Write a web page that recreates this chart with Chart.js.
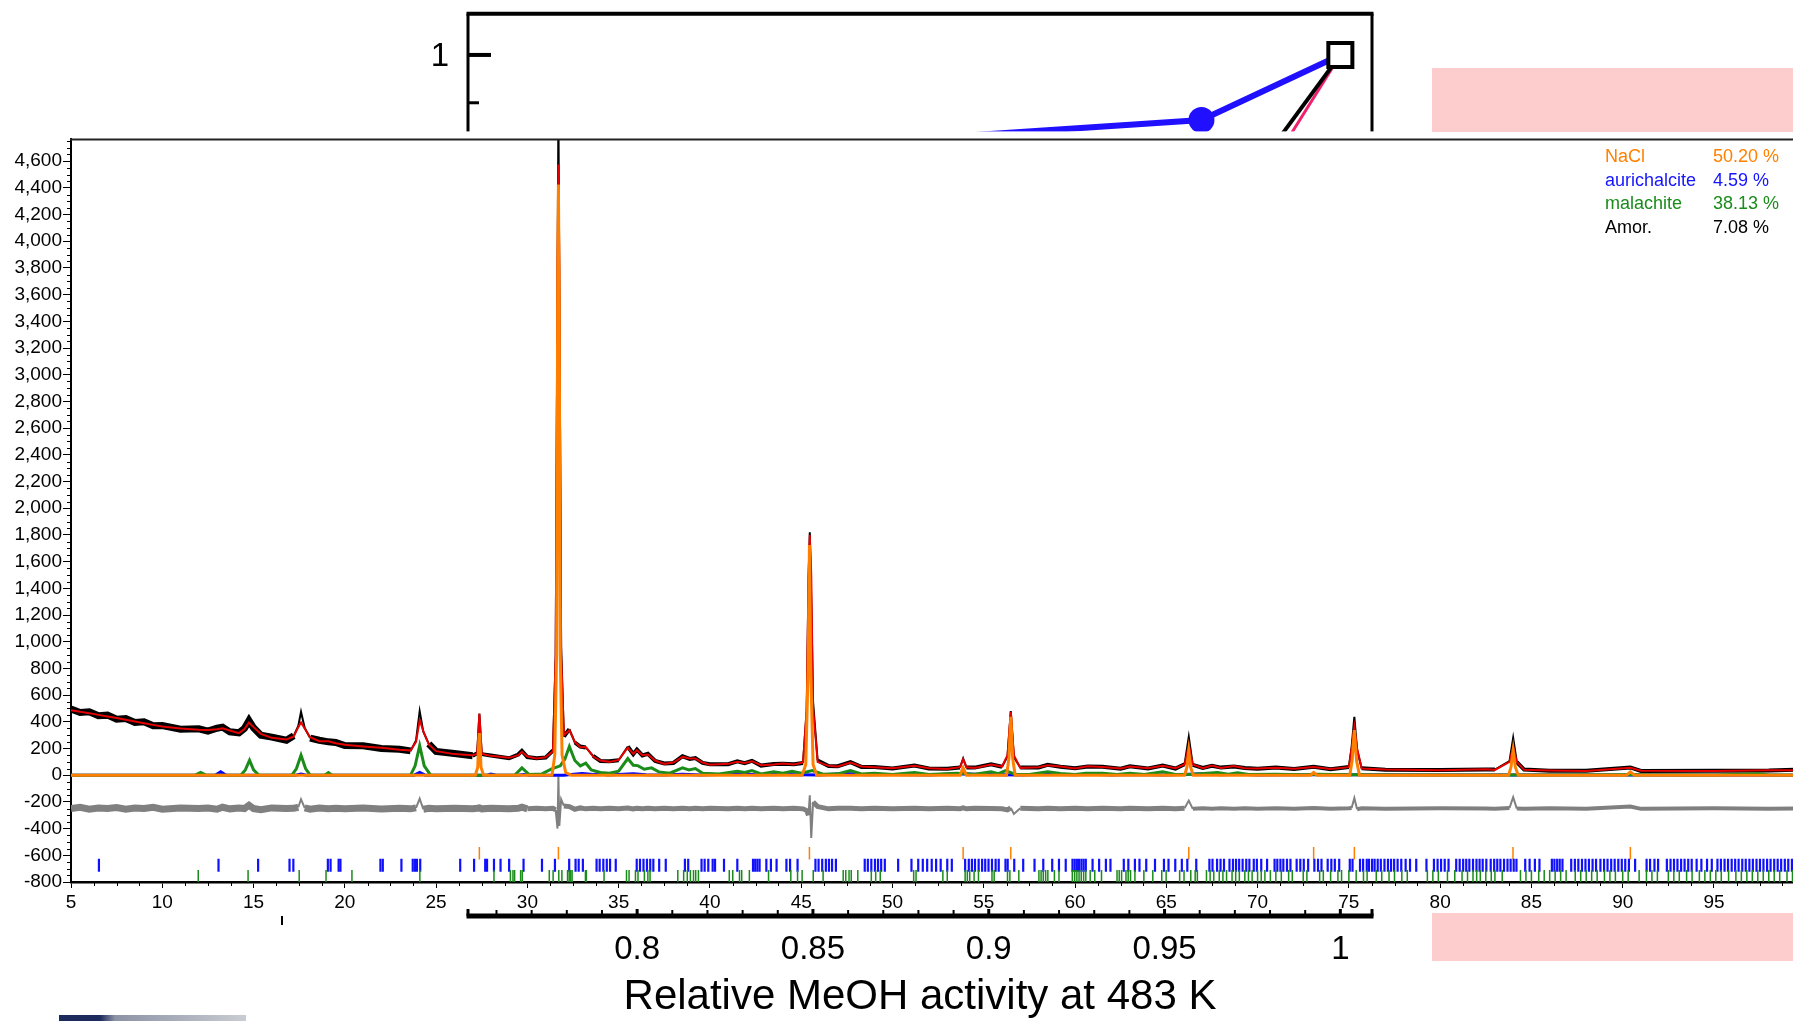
<!DOCTYPE html>
<html><head><meta charset="utf-8">
<script src="https://cdn.jsdelivr.net/npm/chart.js@4.4.1/dist/chart.umd.min.js"></script>
<style>
html,body{margin:0;padding:0;background:#fff;overflow:hidden;width:1793px;height:1021px;position:relative;font-family:"Liberation Sans",Arial,sans-serif}
#inset{position:absolute;left:0;top:-25px;z-index:1}
#main{position:absolute;left:0;top:127px;z-index:2}
.pink{position:absolute;background:#fdcccc;z-index:3}
#legend{position:absolute;left:1605px;top:145px;z-index:4;font-size:18px;line-height:23.5px}
.row{position:relative;height:23.5px;width:180px;white-space:nowrap}
.row span{position:absolute;top:0}
.deco{position:absolute;z-index:3}
</style></head><body>
<canvas id="inset" width="1793" height="1046"></canvas>
<canvas id="main" width="1803" height="782"></canvas>
<div class="pink" style="left:1432px;top:68px;width:361px;height:64px"></div>
<div class="pink" style="left:1432px;top:913px;width:361px;height:48px"></div>
<div class="deco" style="left:281px;top:916px;width:1.5px;height:9px;background:#000"></div>
<div class="deco" style="left:59px;top:1015px;width:187px;height:6px;background:linear-gradient(90deg,#1c2b5c 0%,#1c2b5c 22%,#8d93a6 30%,#c9ccd2 100%)"></div>
<div id="legend"></div>
<script>
// ---------------- Main XRD pattern data ----------------
const twoTheta = [5.0,5.5,6.0,6.5,7.0,7.5,8.0,8.5,9.0,9.5,10.0,
  11.0,12.0,12.5,13.0,13.3,13.7,14.2,14.5,14.75,15.0,15.4,
  16.0,16.8,17.2,17.45,17.6,17.8,18.1,18.6,19.1,19.5,20.0,
  21.0,22.0,23.0,23.6,23.9,24.1,24.3,24.6,25.0,26.0,27.0,
  27.25,27.37,27.5,28.0,29.0,29.5,29.7,30.0,30.5,31.0,31.4,
  31.55,31.65,31.7,31.75,31.85,32.0,32.3,32.6,32.9,33.2,33.6,
  34.0,34.5,35.0,35.5,35.8,36.0,36.3,36.6,37.0,37.5,38.0,
  38.5,38.9,39.2,39.6,40.0,41.0,41.5,41.9,42.3,42.8,43.5,
  44.0,44.6,45.1,45.3,45.4,45.47,45.55,45.65,45.9,46.5,47.0,
  47.7,48.3,49.0,50.0,51.2,52.0,53.0,53.7,53.87,54.05,54.5,
  55.4,56.0,56.3,56.48,56.65,57.0,58.0,58.5,59.2,60.0,60.7,
  61.5,62.5,63.0,64.0,64.8,65.5,66.0,66.23,66.45,67.0,67.5,
  68.0,68.7,69.3,70.0,71.0,72.0,73.07,74.0,75.0,75.15,75.3,
  75.45,75.7,77.0,80.0,82.5,83.0,83.8,84.0,84.2,84.6,86.0,
  88.0,90.42,91.0,95.0,98.0,99.4];
const calcCounts = [487,475,465,452,440,428,415,402,390,377,365,
  350,340,338,345,352,335,315,345,395,360,310,
  280,268,290,360,395,350,285,255,255,240,228,
  215,205,190,185,250,412,330,230,180,158,150,
  160,462,160,145,130,150,175,140,125,135,180,
  900,3800,4575,3800,900,300,337,250,210,212,140,
  110,100,115,207,160,187,150,155,110,85,95,
  137,125,125,95,78,85,100,92,105,75,80,
  88,80,95,500,1500,1800,1500,500,100,70,65,
  95,65,60,52,70,52,47,60,120,60,55,
  80,65,150,475,150,55,60,75,65,50,67,
  62,50,65,52,70,52,80,225,80,52,72,
  55,68,52,50,55,48,62,47,60,200,362,
  200,50,43,37,45,40,100,212,100,40,36,
  32,55,34,32,37,38];
const obsCounts = [495,470,475,445,450,420,425,395,400,370,372,
  345,348,330,352,360,325,318,350,410,355,300,
  285,262,295,370,475,355,278,262,250,245,222,
  220,200,195,182,260,480,325,235,178,162,146,
  165,460,158,148,127,155,182,136,128,132,185,
  890,3650,5000,3670,960,290,345,245,215,208,145,
  107,104,112,215,157,192,148,160,107,88,92,
  142,122,128,92,82,82,104,90,108,72,84,
  86,83,92,480,1450,1820,1300,550,110,68,67,
  98,62,62,50,72,50,49,58,125,58,57,
  82,63,140,480,135,57,58,78,63,52,65,
  64,48,67,50,72,50,82,287,78,54,70,
  57,66,54,48,57,46,64,45,62,210,437,
  190,52,41,39,43,42,105,280,98,42,34,
  34,58,32,34,35,40];
const diffCounts = [-250,-240,-255,-245,-250,-242,-255,-245,-250,-240,-255,
  -245,-250,-245,-255,-240,-252,-245,-250,-225,-250,-258,
  -245,-250,-248,-240,-180,-245,-255,-245,-252,-248,-252,
  -245,-253,-248,-252,-245,-175,-255,-248,-252,-248,-252,
  -248,-245,-252,-248,-252,-248,-240,-252,-248,-252,-248,
  -260,-400,-10,-380,-180,-230,-235,-255,-245,-252,-248,
  -252,-248,-252,-245,-252,-248,-252,-248,-252,-248,-252,
  -248,-252,-248,-252,-248,-252,-248,-252,-248,-252,-248,
  -252,-248,-252,-265,-300,-150,-470,-200,-235,-252,-248,
  -248,-252,-248,-252,-248,-252,-248,-252,-245,-252,-248,
  -250,-252,-260,-245,-290,-248,-252,-248,-252,-248,-252,
  -248,-252,-248,-252,-248,-252,-248,-190,-252,-248,-252,
  -248,-252,-248,-252,-248,-252,-245,-252,-248,-245,-170,
  -255,-248,-252,-248,-250,-252,-245,-165,-250,-252,-248,
  -252,-235,-252,-248,-252,-250];

const naclTheta = [5, 27.15,27.28,27.34,27.37,27.40,27.46,27.6,
  31.35,31.5,31.6,31.66,31.7,31.74,31.8,31.9,32.1,32.4,
  45.05,45.25,45.38,45.45,45.52,45.65,45.85,
  53.7,53.87,54.05, 56.25,56.38,56.48,56.58,56.72,
  66.0,66.13,66.23,66.33,66.48, 72.9,73.07,73.25,
  75.05,75.18,75.3,75.42,75.58, 83.75,83.88,84.0,84.12,84.28,
  90.2,90.42,90.65, 99.4];
const naclCounts = [0, 0,60,250,315,250,60,0,
  0,150,900,3600,4425,3600,900,150,20,0,
  0,80,800,1725,800,80,0,
  0,55,0, 0,130,437,130,0,
  0,60,180,60,0, 0,20,0,
  0,110,337,110,0, 0,60,187,60,0,
  0,25,0, 0];

const malTheta = [5,11.8,12.1,12.4,14.3,14.55,14.78,15.0,15.3,17.1,17.35,17.6,17.85,18.1,18.9,19.1,19.3,
  23.6,23.85,24.1,24.35,24.7,29.3,29.7,30.1,30.8,31.3,31.8,32.05,32.3,32.6,32.9,33.2,33.5,34.0,34.5,
  35.0,35.5,35.8,36.05,36.4,36.8,37.2,37.8,38.5,38.85,39.2,39.6,40.5,41.5,41.9,42.3,42.8,43.5,44.0,
  44.5,45.0,45.6,46.2,47.0,47.7,48.3,49.0,50.0,51.2,52.0,53.5,54.5,55.4,55.8,56.2,56.7,57.5,58.5,
  59.2,60.0,60.6,61.5,62.3,63.0,63.8,64.8,65.5,66.5,67.8,68.4,68.9,69.5,71.0,72.5,73.2,75.0,80,85,
  90,95,97.5,98,99.4];
const malCounts = [0,0,20,0,0,40,112,40,0,0,50,150,50,0,0,20,0,
  0,70,222,70,0,0,55,5,10,45,70,120,215,110,70,90,40,20,15,
  30,125,75,72,45,55,25,15,55,40,50,15,10,30,20,35,10,25,15,
  30,15,35,8,10,35,10,15,5,20,5,15,8,25,12,35,8,5,25,
  12,5,15,15,5,15,5,25,5,8,20,8,18,5,8,3,8,3,2,2,
  3,2,10,2,2];

const aurTheta = [5,12.9,13.2,13.5,17.3,17.6,17.9,23.8,24.1,24.4,27.8,28.0,28.3,29.5,29.8,30.1,32.0,32.4,33.0,
  33.6,34.0,34.4,35.0,35.8,36.5,37.5,38.5,39.5,41.7,42.5,44,46,47.5,48.5,50,52,53.5,55,57,58.8,60,60.9,
  62,63,65,67,68,69,70,72,75,80,90,99.4];
const aurCounts = [0,0,25,0,0,8,0,0,20,0,0,8,0,0,6,0,0,5,12,
  5,10,2,5,10,4,2,8,2,10,3,5,2,12,3,5,2,10,5,2,8,3,8,
  2,5,2,10,3,8,2,3,3,2,2,0];

// Bragg reflection positions (tick marks)
const naclRefl = [27.37,31.70,45.45,53.87,56.48,66.23,73.07,75.30,83.99,90.42];
const aurRefl = [6.53,13.08,15.25,16.97,17.18,19.07,19.22,19.66,19.76,21.95,22.08,23.10,23.72,23.84,23.95,24.13,
  26.32,27.08,27.69,27.79,28.17,28.53,29.00,29.79,30.80,31.51,32.29,32.64,32.81,33.04,33.79,33.96,34.16,34.35,
  34.53,34.84,35.99,36.17,36.36,36.55,36.73,36.90,37.22,37.58,38.63,38.81,39.54,39.71,39.91,40.15,40.28,40.77,
  41.50,42.36,42.48,42.60,42.72,43.09,43.34,43.65,44.19,44.39,44.80,45.78,45.95,46.15,46.35,46.52,46.69,46.90,
  48.48,48.65,48.84,49.04,49.21,49.38,49.58,50.31,51.04,51.41,51.66,51.90,52.15,52.39,52.64,53.00,53.25,53.98,
  54.18,54.35,54.52,54.72,54.91,55.08,55.26,55.45,55.65,55.82,56.19,56.31,56.67,57.16,57.78,58.26,58.75,59.12,
  59.49,59.86,59.98,60.10,60.22,60.35,60.47,60.59,60.96,61.32,61.69,61.94,62.67,62.92,63.28,63.53,63.90,64.38,
  64.87,65.12,65.49,65.85,66.15,66.64,67.36,67.53,67.78,67.97,68.16,68.46,68.65,68.82,68.99,69.18,69.38,69.55,
  69.79,69.96,70.20,70.52,70.93,71.08,71.25,71.41,71.61,71.80,72.14,72.34,72.53,72.77,73.11,73.31,73.50,73.84,
  74.04,74.23,74.47,75.05,75.20,75.61,75.78,75.98,76.10,76.27,76.41,76.58,76.75,76.95,77.14,77.31,77.48,77.67,
  77.87,78.11,78.35,78.69,79.25,79.66,79.86,80.05,80.25,80.46,80.88,81.07,81.26,81.43,81.60,81.80,81.99,82.16,
  82.33,82.53,82.77,82.96,83.13,83.30,83.50,83.69,83.86,84.03,84.18,84.66,84.90,85.19,85.44,86.12,86.26,86.41,
  86.55,86.70,87.18,87.38,87.57,87.77,87.96,88.15,88.35,88.54,88.78,88.98,89.17,89.37,89.56,89.76,89.95,90.14,
  90.34,90.68,91.31,91.50,91.74,91.94,92.42,92.62,92.81,93.00,93.20,93.39,93.59,93.78,94.05,94.31,94.62,94.88,
  95.19,95.38,95.58,95.77,95.97,96.16,96.35,96.55,96.74,96.94,97.13,97.33,97.52,97.71,97.91,98.10,98.30,98.49,
  98.68,98.88,99.07,99.27];
const malRefl = [11.97,14.70,17.50,18.97,20.39,24.11,28.17,29.07,29.21,29.30,29.63,29.72,31.20,31.41,31.72,31.89,
  32.20,32.29,32.37,32.45,33.18,33.23,34.20,35.43,35.57,35.92,36.06,36.41,36.60,36.72,38.24,38.56,38.76,38.93,
  39.10,39.22,39.37,41.06,41.25,41.62,41.74,42.16,43.21,44.43,44.80,45.05,45.66,46.20,47.30,47.44,47.62,47.74,
  48.10,48.84,49.08,49.33,51.16,51.29,52.76,53.00,53.98,54.10,54.23,54.47,54.71,55.45,55.57,56.30,56.43,56.92,
  58.02,58.14,58.26,58.39,58.51,58.87,59.12,59.85,59.98,60.10,60.22,60.34,60.47,60.59,60.83,61.08,61.45,62.30,
  62.42,62.55,62.79,62.91,63.04,63.28,63.77,64.26,64.75,64.99,65.73,65.97,66.34,66.58,66.70,67.20,67.40,67.60,
  67.90,68.10,68.30,68.60,68.80,69.00,69.30,69.50,69.70,70.00,70.20,70.40,70.70,71.00,71.30,71.70,71.90,72.50,
  72.70,73.40,73.60,74.00,74.40,74.60,75.00,75.40,75.80,76.00,76.50,76.80,77.20,77.50,77.90,78.20,79.30,79.60,
  79.90,80.40,80.80,81.20,81.50,81.80,82.00,82.20,82.50,82.80,83.00,83.40,84.40,84.70,85.00,85.40,85.70,86.00,
  86.30,86.60,86.90,87.40,87.70,88.00,88.30,88.60,89.00,89.30,89.60,90.00,90.30,90.90,91.30,91.60,91.90,92.50,
  92.80,93.10,93.50,93.80,94.20,94.50,94.80,95.10,95.40,95.80,96.20,96.50,96.80,97.10,97.40,97.70,98.00,98.30,
  98.60,99.00,99.30];
const naclReflLevel = -585, aurReflLevel = -675, malReflLevel = -760;

const xTickValues = [5,10,15,20,25,30,35,40,45,50,55,60,65,70,75,80,85,90,95];
const yTickValues = [-800,-600,-400,-200,0,200,400,600,800,1000,1200,1400,1600,1800,2000,2200,2400,2600,
  2800,3000,3200,3400,3600,3800,4000,4200,4400,4600];

const phaseNames = ['NaCl','aurichalcite','malachite','Amor.'];
const phasePercents = ['50.20 %','4.59 %','38.13 %','7.08 %'];

// ---------------- Background activity chart data ----------------
const activityTicks = [0.8,0.85,0.9,0.95,1];
const activityYTicks = [1];
const activityTitle = 'Relative MeOH activity at 483 K';
const blueActX = [0.85,0.9605,1.0], blueActY = [0.905,0.932,1.0];
const pinkActX = [0.915,1.0], pinkActY = [0.5,1.0];
const blackActX = [0.9,1.0], blackActY = [0.5,1.0];

// ---------------- styles ----------------
const C = {obs:'#000000', calc:'#e60000', diff:'#808080', nacl:'#ff8000', aur:'#0000ff', mal:'#1a8c1a'};
const legendColors = [C.nacl, '#1414ff', C.mal, '#000000'];
const FONT = 'Liberation Sans';

const pts = (xs, ys) => xs.map((x, i) => ({x: x, y: ys[i]}));
const lvl = (xs, v) => xs.map(x => ({x: x, y: v}));

// legend
const lg = document.getElementById('legend');
phaseNames.forEach((n, i) => {
  const r = document.createElement('div'); r.className = 'row'; r.style.color = legendColors[i];
  const a = document.createElement('span'); a.style.left = '0px'; a.textContent = n;
  const b = document.createElement('span'); b.style.left = '108px'; b.textContent = phasePercents[i];
  r.appendChild(a); r.appendChild(b); lg.appendChild(r);
});

const lineDs = (label, data, color, width, order, extra) => Object.assign({
  label, data, showLine: true, borderColor: color, backgroundColor: color, borderWidth: width,
  pointRadius: 0, fill: false, order, clip: 0
}, extra || {});
const tickDs = (label, data, color, r, w, order) => ({
  label, data, showLine: false, pointStyle: 'line', pointRotation: 90, pointRadius: r,
  pointBorderColor: color, pointBackgroundColor: color, pointBorderWidth: w, order, clip: 0
});
// noisy band widths: thinner on steep segments (peaks)
const bandWidth = (limit, base) => c =>
  Math.abs(c.p1.parsed.y - c.p0.parsed.y) > limit ? 2 : base(c.p0.parsed.x);

const mainDecor = {
  id: 'mainDecor',
  beforeDraw(chart) {
    const {ctx, chartArea: a, width, height} = chart;
    ctx.save(); ctx.fillStyle = '#fff';
    ctx.fillRect(0, a.top - 8, width, height - (a.top - 8));
    ctx.restore();
  },
  afterDraw(chart) {
    const {ctx, chartArea: a, scales: {x, y}} = chart;
    ctx.save();
    ctx.strokeStyle = '#000'; ctx.lineWidth = 1; ctx.beginPath();
    for (let v = -750; v < 4763; v += 50) {
      if (v % 200 === 0) continue;
      const p = Math.round(y.getPixelForValue(v)) + 0.5;
      ctx.moveTo(a.left - 4, p); ctx.lineTo(a.left, p);
    }
    for (let k = 1; k * 1.25 + 5 < 99.4; k++) {
      if (k % 4 === 0) continue;
      const p = Math.round(x.getPixelForValue(5 + k * 1.25)) + 0.5;
      ctx.moveTo(p, a.bottom); ctx.lineTo(p, a.bottom + 4);
    }
    ctx.stroke();
    ctx.strokeStyle = '#222'; ctx.lineWidth = 2; ctx.beginPath();
    ctx.moveTo(a.left - 1, a.top); ctx.lineTo(a.right, a.top); ctx.stroke();
    ctx.restore();
  }
};

new Chart(document.getElementById('main'), {
  type: 'scatter',
  data: {datasets: [
    lineDs('Yobs', pts(twoTheta, obsCounts), C.obs, 5, 10, {segment: {borderWidth: bandWidth(60, x => x < 27 ? 7 : 4)}}),
    lineDs('Ycalc', pts(twoTheta, calcCounts), C.calc, 2, 9),
    lineDs('Diff', pts(twoTheta, diffCounts), C.diff, 5, 8, {segment: {borderWidth: bandWidth(40, x => x < 30 ? 7 : (x < 66 ? 5 : 4))}}),
    lineDs('aurichalcite', pts(aurTheta, aurCounts), C.aur, 3, 7),
    lineDs('malachite', pts(malTheta, malCounts), C.mal, 3, 6),
    lineDs('NaCl', pts(naclTheta, naclCounts), C.nacl, 3, 5),
    tickDs('NaCl hkl', lvl(naclRefl, naclReflLevel), C.nacl, 6.2, 1.5, 3),
    tickDs('aurichalcite hkl', lvl(aurRefl, aurReflLevel), '#1010ff', 6.5, 2.2, 2),
    tickDs('malachite hkl', lvl(malRefl, malReflLevel), '#1a8c1a', 6.7, 1.5, 1)
  ]},
  options: {
    responsive: false, animation: false, events: [],
    layout: {padding: {top: 0, left: 0, right: 0, bottom: 0}},
    plugins: {legend: {display: false}, tooltip: {enabled: false}},
    elements: {line: {tension: 0}},
    scales: {
      x: {type: 'linear', min: 5, max: 99.4,
        afterFit: s => { s.height = 27; },
        afterBuildTicks: s => { s.ticks = xTickValues.map(v => ({value: v})); },
        ticks: {font: {family: FONT, size: 19}, color: '#000', padding: 3, maxRotation: 0, autoSkip: false, callback: v => String(v)},
        grid: {display: true, drawOnChartArea: false, tickLength: 6, tickColor: '#000', tickWidth: 1},
        border: {display: true, color: '#000', width: 2.5}},
      y: {type: 'linear', min: -800, max: 4763,
        afterFit: s => { s.width = 71; },
        afterBuildTicks: s => { s.ticks = yTickValues.map(v => ({value: v})); },
        ticks: {font: {family: FONT, size: 19}, color: '#000', padding: 1, autoSkip: false, callback: v => v.toLocaleString('en-US')},
        grid: {display: true, drawOnChartArea: false, tickLength: 8, tickColor: '#000', tickWidth: 1},
        border: {display: true, color: '#000', width: 2}}
    }
  },
  plugins: [mainDecor]
});

// ---------------- background activity chart ----------------
const insetFrame = {
  id: 'insetFrame',
  afterDraw(chart) {
    const {ctx, chartArea: a, scales: {x, y}} = chart;
    ctx.save(); ctx.strokeStyle = '#000';
    const ln = (w, x1, y1, x2, y2) => { ctx.lineWidth = w; ctx.beginPath(); ctx.moveTo(x1, y1); ctx.lineTo(x2, y2); ctx.stroke(); };
    ln(4, a.left - 1.5, a.top, a.right + 1.5, a.top);
    ln(3, a.left, a.top, a.left, a.bottom);
    ln(3, a.right, a.top, a.right, a.bottom);
    ln(5, a.left - 1.5, a.bottom, a.right + 1.5, a.bottom);
    for (let k = 76; k <= 100; k++) {
      const v = k / 100, p = x.getPixelForValue(v);
      const major = k % 5 === 0;
      ln(major ? 3 : 2, p, a.bottom, p, a.bottom - (major ? 12 : 6));
    }
    for (let k = 2; k <= 20; k++) {
      const v = k * 0.05, p = y.getPixelForValue(v);
      const major = k === 20;
      ln(major ? 4 : 3, a.left, p, a.left + (major ? 23 : 11), p);
    }
    ctx.restore();
  }
};

new Chart(document.getElementById('inset'), {
  type: 'scatter',
  data: {datasets: [
    {label: 'blue', data: pts(blueActX, blueActY), showLine: true, borderColor: '#2010ff', borderWidth: 6,
      pointRadius: [0, 13, 0], pointBackgroundColor: '#2010ff', pointBorderColor: '#2010ff', pointBorderWidth: 0, order: 3},
    {label: 'pink', data: pts(pinkActX, pinkActY), showLine: true, borderColor: '#f0206e', borderWidth: 3, pointRadius: 0, order: 2},
    {label: 'black', data: pts(blackActX, blackActY), showLine: true, borderColor: '#000', borderWidth: 4,
      pointRadius: [0, 17], pointStyle: 'rect', pointBackgroundColor: '#fff', pointBorderColor: '#000', pointBorderWidth: 4, order: 1}
  ]},
  options: {
    responsive: false, animation: false, events: [],
    layout: {padding: {top: 0, left: 0, right: 421, bottom: 0}},
    plugins: {legend: {display: false}, tooltip: {enabled: false}},
    scales: {
      x: {type: 'linear', min: 0.7519, max: 1.009,
        afterFit: s => { s.height = 105; },
        afterBuildTicks: s => { s.ticks = activityTicks.map(v => ({value: v})); },
        ticks: {font: {family: FONT, size: 33}, color: '#000', padding: 14, maxRotation: 0, autoSkip: false, callback: v => String(v)},
        grid: {display: false, drawTicks: false}, border: {display: false},
        title: {display: true, text: activityTitle, color: '#000', font: {family: FONT, size: 42, lineHeight: 1}, padding: {top: 0, bottom: 3}}},
      y: {type: 'linear', min: 0.1, max: 1.043,
        afterFit: s => { s.width = 468; },
        afterBuildTicks: s => { s.ticks = activityYTicks.map(v => ({value: v})); },
        ticks: {font: {family: FONT, size: 33}, color: '#000', padding: 19, labelOffset: 2, autoSkip: false, callback: v => String(v)},
        grid: {display: false, drawTicks: false}, border: {display: false}}
    }
  },
  plugins: [insetFrame]
});
</script>
</body></html>
